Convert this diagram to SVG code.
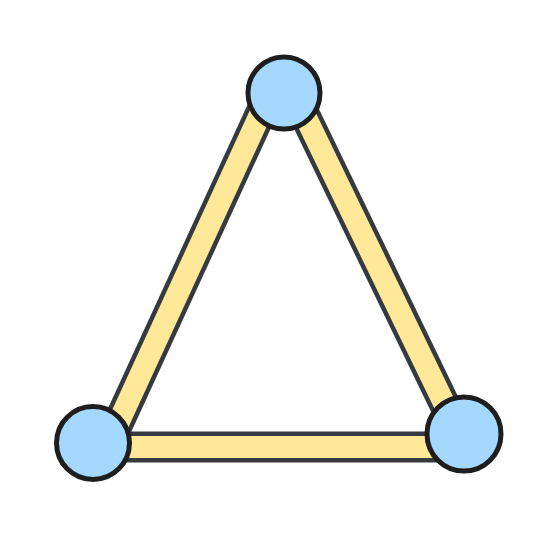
<svg xmlns="http://www.w3.org/2000/svg" width="558" height="535" viewBox="0 0 558 535">
<style>
.edge-out{stroke:#343a40;stroke-width:31;stroke-linecap:butt;fill:none}
.edge-in{stroke:#ffe999;stroke-width:22;stroke-linecap:butt;fill:none}
.node{fill:#a5d8ff;stroke:#1e1e1e;stroke-width:5}
</style>
<rect width="558" height="535" fill="#ffffff"/>
<g id="connectors">
<line class="edge-out" x1="270" y1="93" x2="110" y2="441"/>
<line class="edge-in" x1="270" y1="93" x2="110" y2="441"/>
<line class="edge-out" x1="294" y1="93" x2="459" y2="434"/>
<line class="edge-in" x1="294" y1="93" x2="459" y2="434"/>
<line class="edge-out" x1="95" y1="447" x2="462" y2="447"/>
<line class="edge-in" x1="95" y1="447" x2="462" y2="447"/>
</g>
<g id="node-top"><circle class="node" cx="284" cy="93" r="36"/></g>
<g id="node-left"><circle class="node" cx="93" cy="443" r="36.5"/></g>
<g id="node-right"><circle class="node" cx="464" cy="434" r="37"/></g>
</svg>
